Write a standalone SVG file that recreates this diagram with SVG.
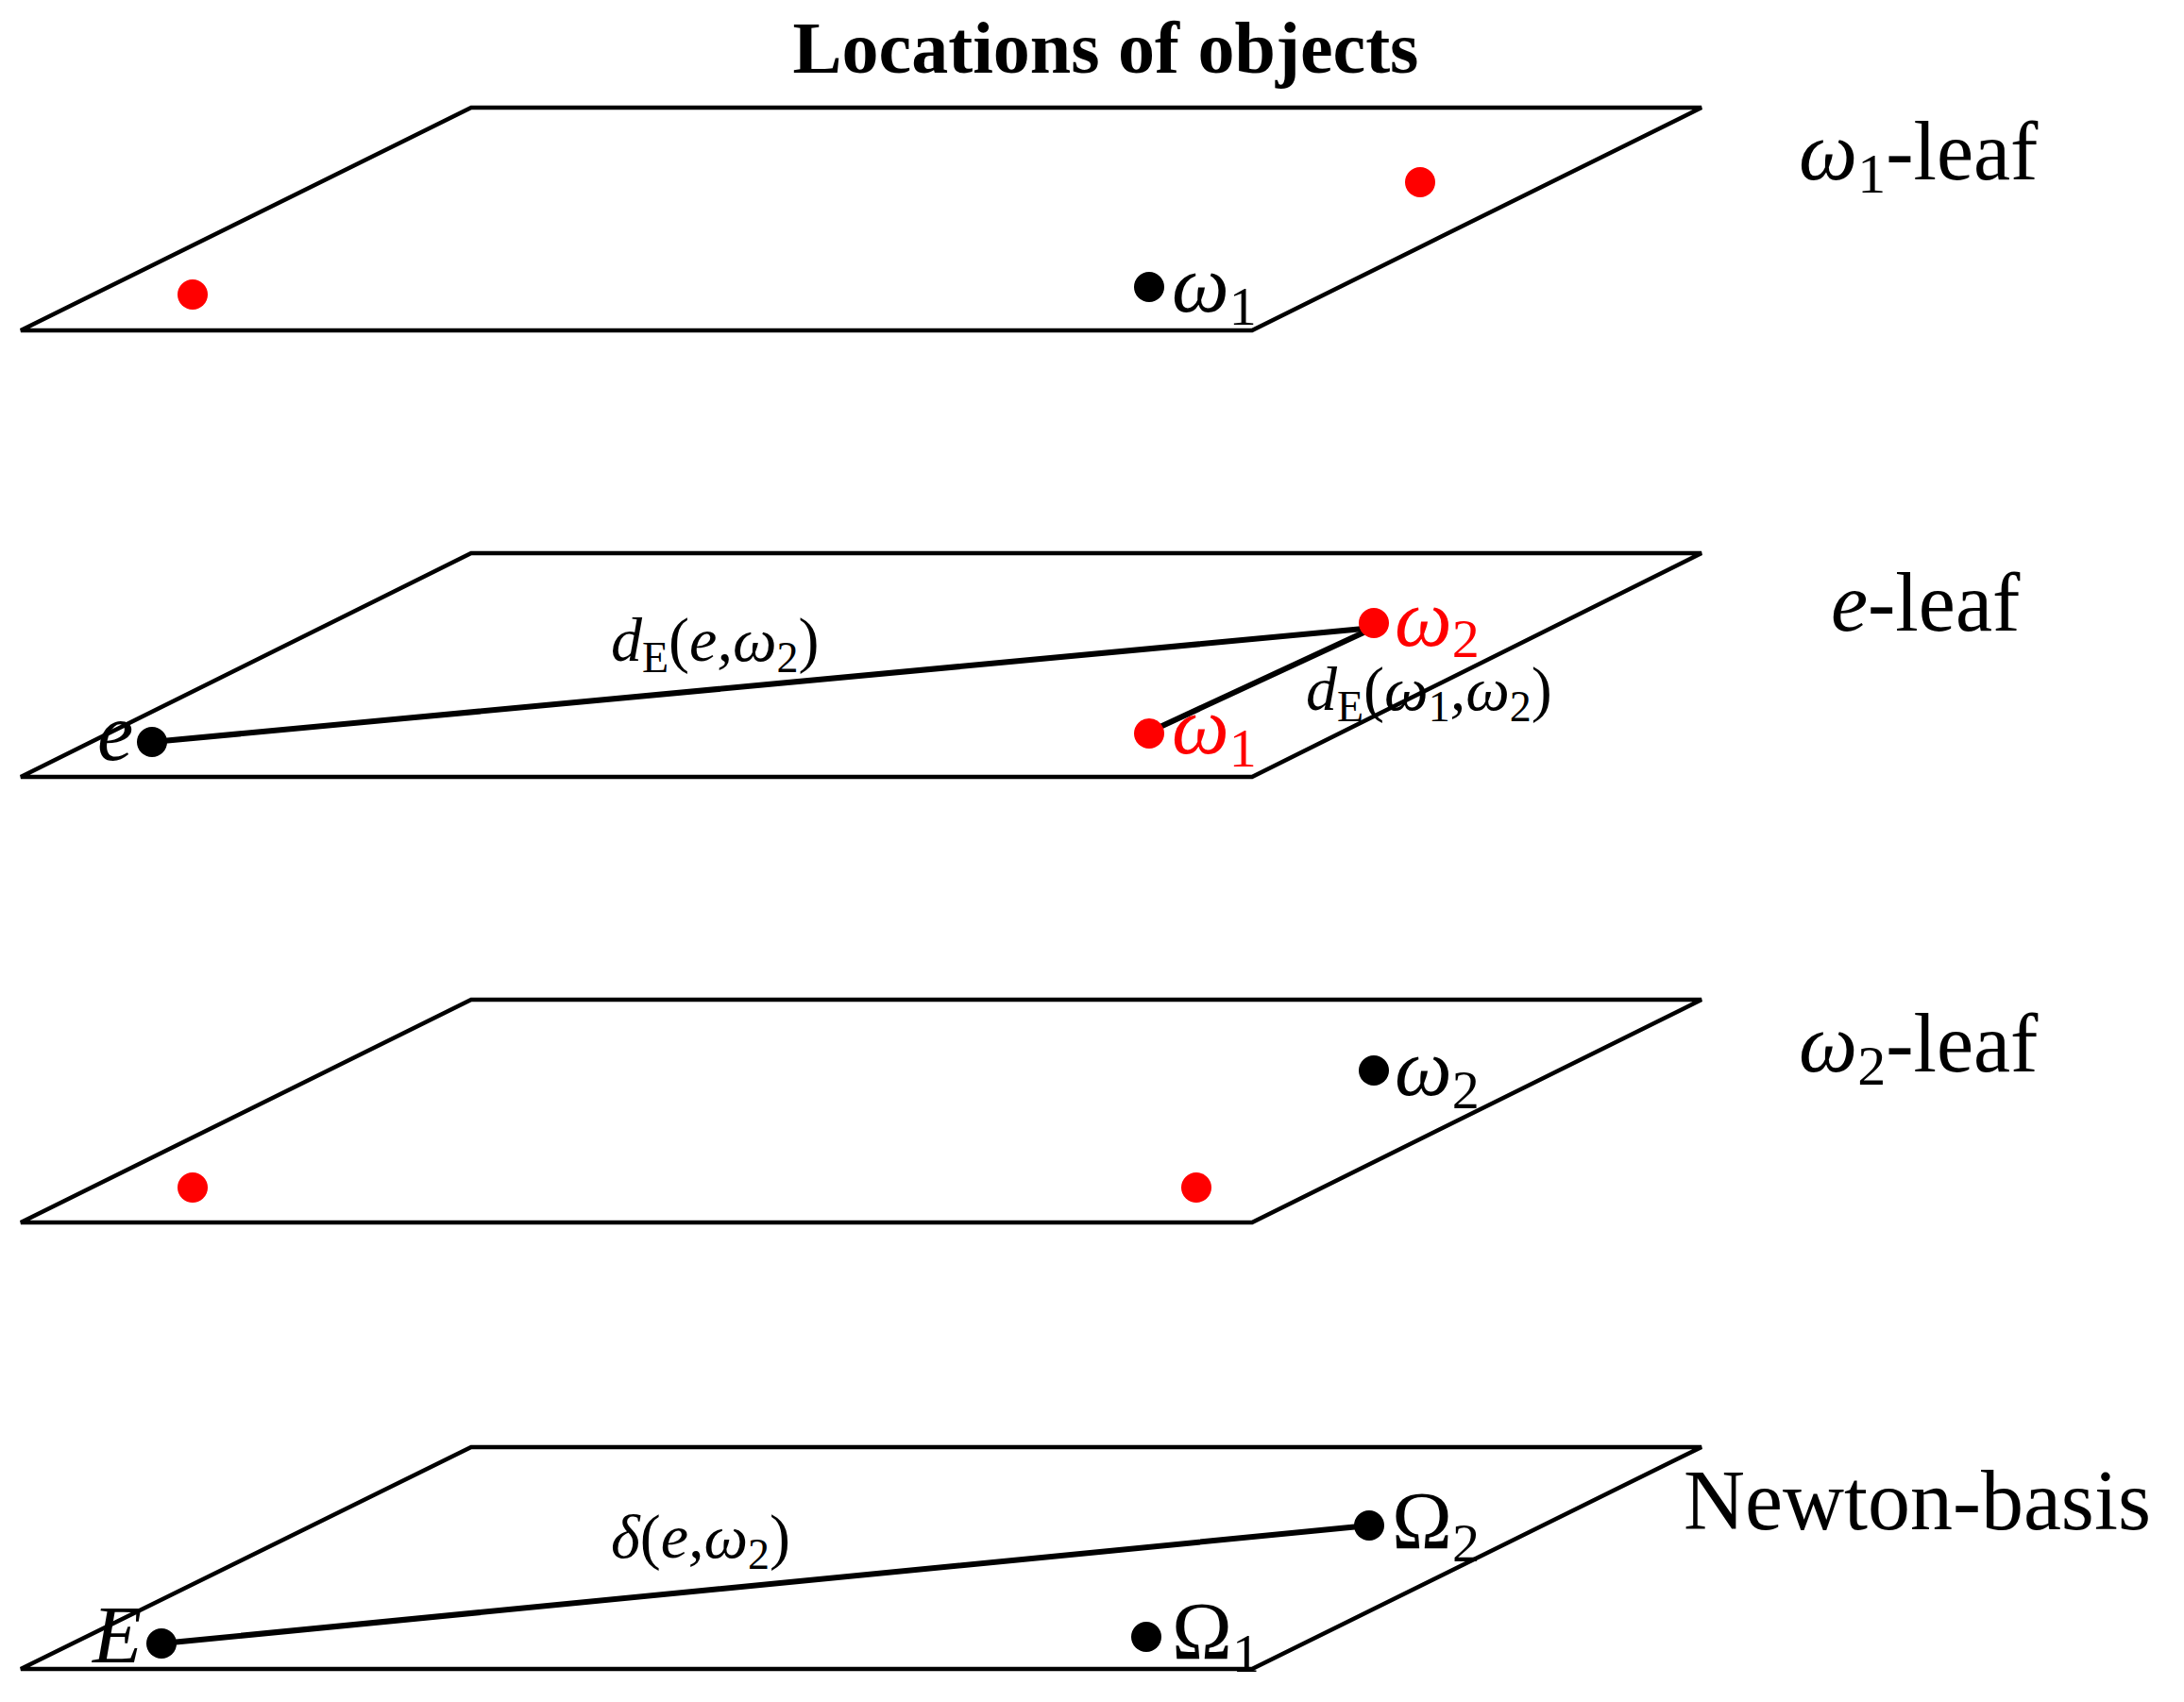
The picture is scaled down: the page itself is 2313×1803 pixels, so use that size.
<svg xmlns="http://www.w3.org/2000/svg" width="2313" height="1803" viewBox="0 0 2313 1803">
<style>
.pl{fill:none;stroke:#000;stroke-width:4.5}
.ln{stroke:#000;stroke-width:6;stroke-linecap:round}
.t{font-family:"Liberation Serif",serif;fill:#000}
.m{font-family:"Liberation Serif",serif;font-style:italic;font-size:86px}
.s{font-size:58px;font-style:normal}
.lab{font-family:"Liberation Serif",serif;font-style:italic;font-size:66px}
.r{fill:#ff0000}
</style>
<rect width="2313" height="1803" fill="#fff"/>
<text class="t" x="1171" y="77" text-anchor="middle" font-size="78" font-weight="bold">Locations of objects</text>
<g id="leaf-w1">
<polygon class="pl" points="499,114 1802,114 1326,350 22,350"/>
<circle class="r" cx="204" cy="312" r="16"/>
<circle class="r" cx="1504" cy="193" r="16"/>
<circle cx="1217" cy="304" r="16"/>
<text class="m" x="1241" y="330">ω<tspan class="s" dy="14">1</tspan></text>
<text class="t" x="1905" y="190" font-size="88"><tspan font-style="italic">ω</tspan><tspan font-size="60" dy="14">1</tspan><tspan dy="-14">-leaf</tspan></text>
</g>
<g id="connectors">
<line class="ln" x1="161" y1="786" x2="1455" y2="665"/>
<line class="ln" x1="1220" y1="774" x2="1455" y2="665"/>
<line class="ln" x1="171" y1="1741" x2="1450" y2="1616"/>
</g>
<g id="leaf-e">
<polygon class="pl" points="499,586 1802,586 1326,823 22,823"/>
<circle cx="161" cy="786" r="16"/>
<text class="m" x="103" y="805">e</text>
<circle class="r" cx="1217" cy="777" r="16"/>
<text class="m r" x="1241" y="798">ω<tspan class="s" dy="14">1</tspan></text>
<circle class="r" cx="1455" cy="660" r="16"/>
<text class="m r" x="1477" y="684">ω<tspan class="s" dy="12">2</tspan></text>
<text class="lab" x="647" y="700">d<tspan font-size="46" font-style="normal" dy="12">E</tspan><tspan font-style="normal" dy="-12">(</tspan>e,ω<tspan font-size="46" font-style="normal" dy="12">2</tspan><tspan font-style="normal" dy="-12">)</tspan></text>
<text class="lab" x="1383" y="752">d<tspan font-size="46" font-style="normal" dy="12">E</tspan><tspan font-style="normal" dy="-12">(</tspan>ω<tspan font-size="46" font-style="normal" dy="12">1</tspan><tspan dy="-12">,ω</tspan><tspan font-size="46" font-style="normal" dy="12">2</tspan><tspan font-style="normal" dy="-12">)</tspan></text>
<text class="t" x="1939" y="668" font-size="88"><tspan font-style="italic">e</tspan>-leaf</text>
</g>
<g id="leaf-w2">
<polygon class="pl" points="499,1059 1802,1059 1326,1295 22,1295"/>
<circle cx="1455" cy="1134" r="16"/>
<text class="m" x="1477" y="1160">ω<tspan class="s" dy="14">2</tspan></text>
<circle class="r" cx="204" cy="1258" r="16"/>
<circle class="r" cx="1267" cy="1258" r="16"/>
<text class="t" x="1905" y="1135" font-size="88"><tspan font-style="italic">ω</tspan><tspan font-size="60" dy="14">2</tspan><tspan dy="-14">-leaf</tspan></text>
</g>
<g id="newton-basis">
<polygon class="pl" points="499,1533 1802,1533 1326,1768 22,1768"/>
<circle cx="171" cy="1741" r="16"/>
<text class="m" x="98" y="1761">E</text>
<circle cx="1450" cy="1616" r="16"/>
<text class="t" x="1474" y="1640" font-size="86">Ω<tspan font-size="58" dy="14">2</tspan></text>
<circle cx="1214" cy="1734" r="16"/>
<text class="t" x="1241" y="1757" font-size="86">Ω<tspan font-size="58" dy="14">1</tspan></text>
<text class="lab" x="647" y="1650">δ<tspan font-style="normal">(</tspan>e,ω<tspan font-size="46" font-style="normal" dy="12">2</tspan><tspan font-style="normal" dy="-12">)</tspan></text>
<text class="t" x="1783" y="1620" font-size="90">Newton-basis</text>
</g>
</svg>
